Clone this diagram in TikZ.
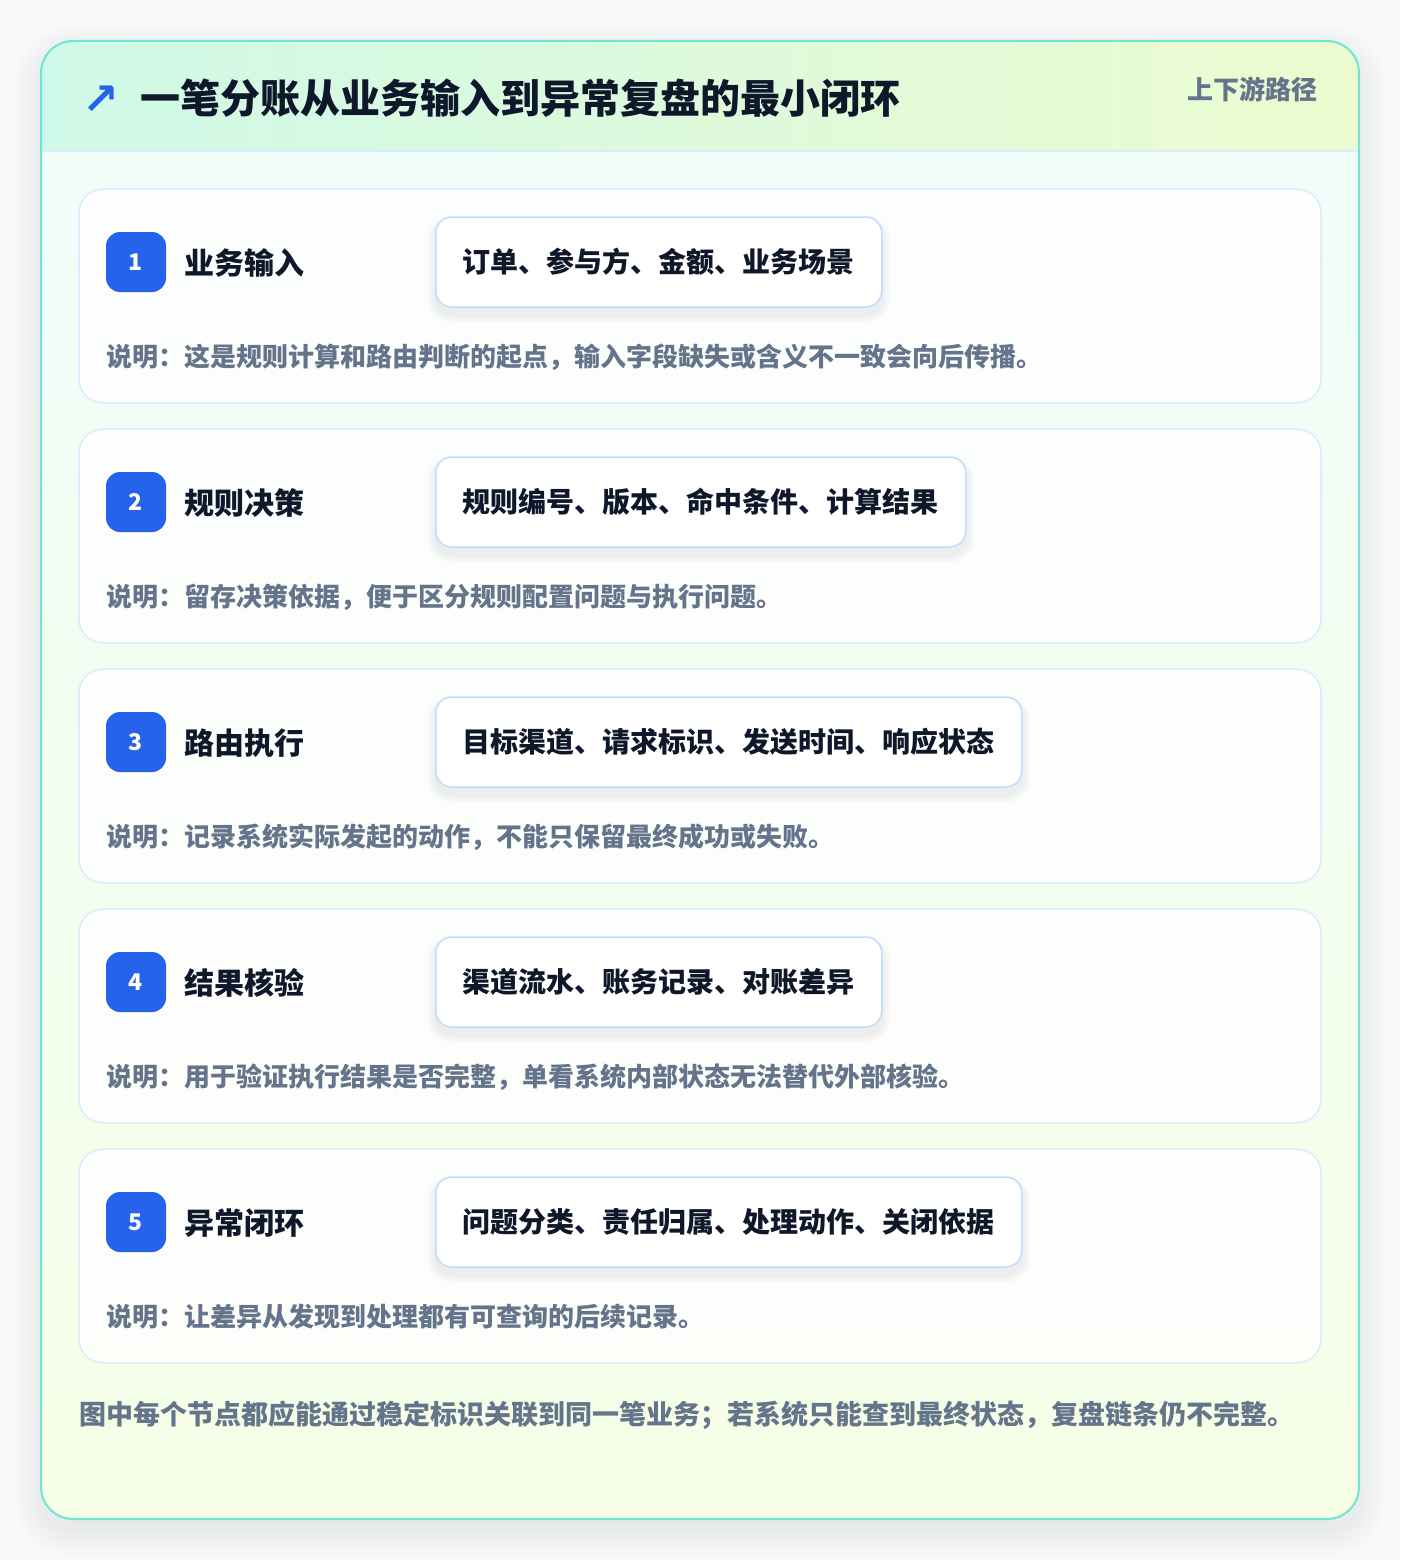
\documentclass[tikz,border=0pt]{standalone}
\usepackage{fontspec}
\setmainfont{Noto Sans CJK SC}
\newfontfamily\symfont{DejaVu Sans}
\definecolor{pagebg}{HTML}{F8F9FB}
\definecolor{tealline}{HTML}{6EE7D2}
\definecolor{headl}{HTML}{CFF9E8}
\definecolor{headr}{HTML}{ECFBCF}
\definecolor{bodytop}{HTML}{F0FDF9}
\definecolor{bodybot}{HTML}{F6FEE6}
\definecolor{sepline}{HTML}{DBEAFE}
\definecolor{cardline}{HTML}{DBEAFE}
\definecolor{boxline}{HTML}{BFDBFE}
\definecolor{badgeblue}{HTML}{2563EB}
\definecolor{ink}{HTML}{0F172A}
\definecolor{slate}{HTML}{64748B}
\pgfdeclarelayer{back}
\pgfdeclarelayer{mid}
\pgfsetlayers{back,mid,main}
\tikzset{
  cardbox/.style={draw=cardline, line width=1.5pt, fill=white, fill opacity=0.82, rounded corners=24pt},
  badge/.style={rectangle, rounded corners=14pt, minimum width=60pt, minimum height=60pt, inner sep=0pt, fill=badgeblue, text=white, font=\bfseries\fontsize{23}{23}\selectfont},
  steplabel/.style={anchor=west, inner sep=0pt, text=ink, font=\bfseries\fontsize{30}{34}\selectfont},
  fieldbox/.style={anchor=west, rectangle, rounded corners=16pt, draw=boxline, line width=1.5pt, fill=white, inner xsep=27pt, inner ysep=0pt, minimum height=90pt, text=ink, font=\bfseries\fontsize{28}{32}\selectfont},
  desctext/.style={anchor=west, inner sep=0pt, text=slate, font=\bfseries\fontsize{26}{30}\selectfont},
}
\begin{document}
\begin{tikzpicture}[x=1pt,y=-1pt]
\useasboundingbox (0,0) rectangle (1400,1560);
\begin{pgfonlayer}{back}
\fill[pagebg] (0,0) rectangle (1400,1560);
% outer shadow
\foreach \k in {0,...,14} {
  \pgfmathsetmacro\rr{32+2*\k}
  \fill[black, opacity=0.005, rounded corners=\rr pt] ({41-2*\k},{52-2*\k}) rectangle ({1359+2*\k},{1530+2*\k});
}
% outer card
\begin{scope}
  \clip[rounded corners=32pt] (41,41) rectangle (1359,1519);
  \shade[top color=bodytop, bottom color=bodybot] (41,151) rectangle (1359,1519);
  \shade[left color=headl, right color=headr] (41,41) rectangle (1359,151);
\end{scope}
\draw[sepline, line width=1.5pt] (41,151) -- (1359,151);
\draw[tealline, line width=2pt, rounded corners=32pt] (41,41) rectangle (1359,1519);
\end{pgfonlayer}

% header
\node[anchor=west, inner sep=0pt, text=badgeblue, font=\symfont\bfseries\fontsize{44}{44}\selectfont] (arrow) at (82,100) {↗};
\node[anchor=west, inner sep=0pt, text=ink, font=\bfseries\fontsize{40}{44}\selectfont] (title) at (140,98) {一笔分账从业务输入到异常复盘的最小闭环};
\node[anchor=east, inner sep=0pt, text=slate, font=\bfseries\fontsize{26}{30}\selectfont] (tag) at (1318,89) {上下游路径};

% steps
\foreach \i/\lab/\fld/\desc in {
  1/业务输入/订单、参与方、金额、业务场景/说明：这是规则计算和路由判断的起点，输入字段缺失或含义不一致会向后传播。,
  2/规则决策/规则编号、版本、命中条件、计算结果/说明：留存决策依据，便于区分规则配置问题与执行问题。,
  3/路由执行/目标渠道、请求标识、发送时间、响应状态/说明：记录系统实际发起的动作，不能只保留最终成功或失败。,
  4/结果核验/渠道流水、账务记录、对账差异/说明：用于验证执行结果是否完整，单看系统内部状态无法替代外部核验。,
  5/异常闭环/问题分类、责任归属、处理动作、关闭依据/说明：让差异从发现到处理都有可查询的后续记录。} {
  \pgfmathsetmacro\yy{240*(\i-1)}
  \begin{pgfonlayer}{back}
    \path[cardbox] (79,{189+\yy}) rectangle (1321,{403+\yy});
  \end{pgfonlayer}
  \node[badge] (b\i) at (136,{262+\yy}) {\i};
  \node[steplabel] (l\i) at (184,{263+\yy}) {\lab};
  \node[fieldbox] (f\i) at (435,{262+\yy}) {\fld};
  \begin{pgfonlayer}{mid}
    \foreach \k in {1,...,8} {
      \pgfmathsetmacro\rr{16+\k}
      \fill[black, opacity=0.006, rounded corners=\rr pt]
        ([xshift=-\k pt, yshift={(-7+\k)*1pt}]f\i.north west) rectangle ([xshift=\k pt, yshift={(-7-\k)*1pt}]f\i.south east);
    }
  \end{pgfonlayer}
  \node[desctext] (d\i) at (106,{357+\yy}) {\desc};
}

% footer
\node[anchor=west, inner sep=0pt, text=slate, font=\bfseries\fontsize{27}{31}\selectfont] (foot) at (79,1415) {图中每个节点都应能通过稳定标识关联到同一笔业务；若系统只能查到最终状态，复盘链条仍不完整。};
\end{tikzpicture}
\end{document}
